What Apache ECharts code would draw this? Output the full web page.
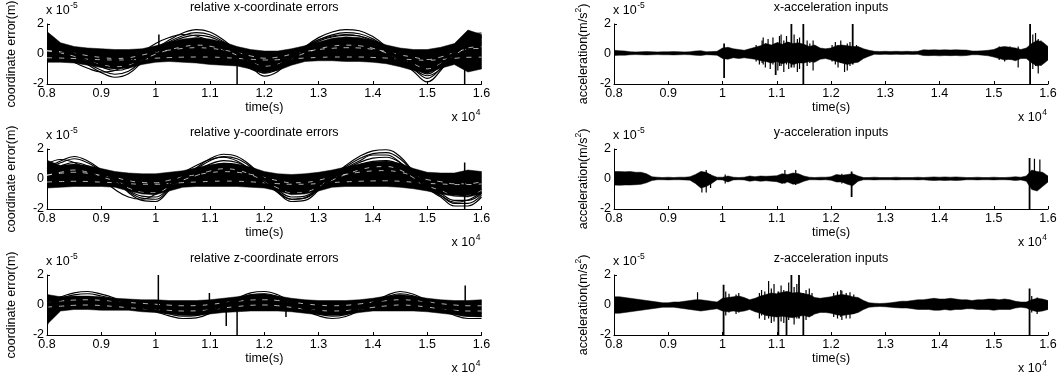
<!DOCTYPE html>
<html><head><meta charset="utf-8">
<script src="https://cdn.jsdelivr.net/npm/echarts@6/dist/echarts.min.js"></script>
<style>html,body{margin:0;padding:0;background:#fff}#c{width:1062px;height:383px}</style>
</head><body><div id="c"></div>
<script>
// ---------------- DATA ----------------
const X_TICK_LABELS = ['0.8','0.9','1','1.1','1.2','1.3','1.4','1.5','1.6'];
const Y_TICKS = [-2, 0, 2];
const TITLES = ['relative x-coordinate errors','x-acceleration inputs','relative y-coordinate errors','y-acceleration inputs','relative z-coordinate errors','z-acceleration inputs'];

const TIME33 = [8000,8250,8500,8750,9000,9250,9500,9750,10000,10250,10500,10750,11000,11250,11500,11750,12000,12250,12500,12750,13000,13250,13500,13750,14000,14250,14500,14750,15000,15250,15500,15750,16000];
const TIME81 = [8000,8100,8200,8300,8400,8500,8600,8700,8800,8900,9000,9100,9200,9300,9400,9500,9600,9700,9800,9900,10000,10100,10200,10300,10400,10500,10600,10700,10800,10900,11000,11100,11200,11300,11400,11500,11600,11700,11800,11900,12000,12100,12200,12300,12400,12500,12600,12700,12800,12900,13000,13100,13200,13300,13400,13500,13600,13700,13800,13900,14000,14100,14200,14300,14400,14500,14600,14700,14800,14900,15000,15100,15200,15300,15400,15500,15600,15700,15800,15900,16000];

// relative x-coordinate errors (x 1e-5 m)
const XE_CORE_HI = [1.5,0.75,0.5,0.4,0.35,0.3,0.3,0.35,0.55,0.8,1.0,1.1,1.0,0.8,0.5,0.3,0.2,0.2,0.35,0.55,0.8,1.05,1.15,1.1,0.9,0.6,0.4,0.3,0.3,0.45,0.7,1.6,1.3];
const XE_CORE_LO = [-0.55,-0.55,-0.6,-0.75,-0.9,-1.0,-0.95,-0.7,-0.55,-0.5,-0.55,-0.6,-0.7,-0.75,-0.8,-1.0,-1.25,-1.1,-0.75,-0.5,-0.45,-0.45,-0.5,-0.5,-0.55,-0.65,-0.85,-1.1,-1.3,-0.95,-0.7,-1.2,-1.0];
const XE_S1 = [0.4,0.22,-0.05,-0.46,-0.77,-0.95,-0.82,-0.37,0.13,0.49,0.76,0.9,0.81,0.49,0.04,-0.5,-0.91,-0.73,-0.23,0.22,0.58,0.81,0.9,0.85,0.63,0.22,-0.32,-0.73,-1.13,-0.68,0.04,0.67,0.76];
const XE_S2 = [0.63,0.4,0.05,-0.47,-0.87,-1.1,-0.93,-0.35,0.28,0.74,1.09,1.26,1.14,0.74,0.17,-0.53,-1.04,-0.81,-0.18,0.4,0.86,1.14,1.26,1.2,0.91,0.4,-0.3,-0.81,-1.33,-0.76,0.17,0.97,1.09];
const XE_S3 = [0.68,0.41,0,-0.61,-1.08,-1.35,-1.15,-0.47,0.27,0.81,1.22,1.42,1.28,0.81,0.14,-0.68,-1.28,-1.01,-0.27,0.41,0.95,1.28,1.42,1.35,1.01,0.41,-0.41,-1.01,-1.62,-0.95,0.14,1.08,1.22];
const XE_S4 = [0.78,0.47,0,-0.7,-1.24,-1.55,-1.32,-0.54,0.31,0.93,1.4,1.63,1.47,0.93,0.16,-0.78,-1.47,-1.16,-0.31,0.47,1.09,1.47,1.63,1.55,1.16,0.47,-0.47,-1.16,-1.86,-1.09,0.16,1.24,1.4];
const XE_S5 = [0.45,0.0,-0.55,-0.95,-1.2,-1.1,-0.6,0.1,0.7,1.1,1.3,1.2,0.85,0.3,-0.4,-1.0,-1.25,-0.8,-0.1,0.5,0.95,1.2,1.3,1.2,0.8,0.2,-0.5,-1.0,-1.45,-1.0,-0.1,0.8,1.1];
const XE_W1 = [0.23,0.16,0.05,-0.11,-0.23,-0.3,-0.25,-0.07,0.12,0.26,0.37,0.42,0.38,0.26,0.09,-0.13,-0.28,-0.21,-0.02,0.16,0.3,0.38,0.42,0.4,0.31,0.16,-0.06,-0.21,-0.37,-0.2,0.09,0.33,0.37];
const XE_W2 = [0.2,0.06,-0.15,-0.47,-0.71,-0.85,-0.75,-0.4,-0.01,0.27,0.48,0.59,0.52,0.27,-0.08,-0.5,-0.82,-0.68,-0.29,0.06,0.34,0.52,0.59,0.55,0.38,0.06,-0.36,-0.68,-0.99,-0.64,-0.08,0.41,0.48];
const XE_W3 = [-0.25,-0.27,-0.3,-0.35,-0.38,-0.4,-0.39,-0.34,-0.28,-0.24,-0.21,-0.2,-0.2,-0.24,-0.29,-0.35,-0.4,-0.38,-0.32,-0.27,-0.23,-0.2,-0.2,-0.2,-0.23,-0.27,-0.33,-0.38,-0.42,-0.37,-0.29,-0.22,-0.21];
const XE_SPIKES = [[10060,0.3,1.3],[11500,-2.1,0],[15690,-2.1,1.2]];

// relative y-coordinate errors
const YE_CORE_HI = [1.25,0.9,1.0,0.9,0.7,0.5,0.4,0.35,0.35,0.45,0.55,0.75,0.95,1.05,1.0,0.8,0.5,0.35,0.3,0.35,0.45,0.6,0.8,1.0,1.15,1.2,1.05,0.7,0.45,0.4,0.4,0.6,0.5];
const YE_CORE_LO = [-0.6,-0.55,-0.5,-0.5,-0.5,-0.55,-0.8,-1.0,-1.05,-0.8,-0.55,-0.5,-0.5,-0.5,-0.5,-0.55,-0.6,-0.8,-1.05,-1.0,-0.8,-0.55,-0.5,-0.5,-0.5,-0.5,-0.55,-0.65,-0.8,-1.0,-1.15,-1.2,-1.0];
const YE_S1 = [0.5,0.77,0.95,0.77,0.41,0.05,-0.49,-0.81,-0.85,-0.4,0.14,0.5,0.86,1.04,0.95,0.59,0.05,-0.49,-0.85,-0.81,-0.4,0.14,0.59,0.95,1.18,1.22,0.95,0.32,-0.31,-0.67,-1.03,-1.03,-0.67];
const YE_S2 = [0.53,0.87,1.1,0.87,0.41,-0.05,-0.74,-1.14,-1.2,-0.63,0.07,0.53,0.99,1.22,1.1,0.64,-0.05,-0.74,-1.2,-1.14,-0.63,0.07,0.64,1.1,1.39,1.45,1.1,0.3,-0.51,-0.97,-1.43,-1.43,-0.97];
const YE_S3 = [0.68,1.08,1.35,1.08,0.54,0,-0.81,-1.28,-1.35,-0.68,0.14,0.68,1.22,1.49,1.35,0.81,0,-0.81,-1.35,-1.28,-0.68,0.14,0.81,1.35,1.69,1.76,1.35,0.41,-0.54,-1.08,-1.62,-1.62,-1.08];
const YE_S4 = [0.75,1.2,1.5,1.2,0.6,0,-0.9,-1.43,-1.5,-0.75,0.15,0.75,1.35,1.65,1.5,0.9,0,-0.9,-1.5,-1.43,-0.75,0.15,0.9,1.5,1.88,1.95,1.5,0.45,-0.6,-1.2,-1.8,-1.8,-1.2];
const YE_S5 = [1.0,1.3,1.1,0.6,0.0,-0.7,-1.2,-1.35,-1.0,-0.3,0.4,0.9,1.3,1.45,1.2,0.6,-0.2,-0.9,-1.35,-1.25,-0.7,0.0,0.7,1.2,1.6,1.6,1.1,0.2,-0.6,-1.1,-1.55,-1.4,-0.9];
const YE_W1 = [0.28,0.38,0.45,0.38,0.24,0.1,-0.11,-0.23,-0.25,-0.08,0.14,0.28,0.42,0.49,0.45,0.31,0.1,-0.11,-0.25,-0.23,-0.08,0.14,0.31,0.45,0.54,0.56,0.45,0.21,-0.04,-0.18,-0.32,-0.32,-0.18];
const YE_W2 = [0.23,0.45,0.6,0.45,0.15,-0.15,-0.6,-0.86,-0.9,-0.53,-0.08,0.23,0.53,0.68,0.6,0.3,-0.15,-0.6,-0.9,-0.86,-0.53,-0.08,0.3,0.6,0.79,0.83,0.6,0.08,-0.45,-0.75,-1.05,-1.05,-0.75];
const YE_W3 = [-0.2,-0.17,-0.15,-0.17,-0.21,-0.25,-0.31,-0.35,-0.35,-0.3,-0.24,-0.2,-0.16,-0.14,-0.15,-0.19,-0.25,-0.31,-0.35,-0.35,-0.3,-0.24,-0.19,-0.15,-0.13,-0.12,-0.15,-0.22,-0.29,-0.33,-0.37,-0.37,-0.33];
const YE_SPIKES = [[15690,-2.1,1.1]];

// relative z-coordinate errors
const ZE_CORE_HI = [0.7,0.55,0.6,0.6,0.55,0.45,0.4,0.35,0.35,0.3,0.3,0.3,0.35,0.45,0.55,0.7,0.75,0.6,0.45,0.35,0.3,0.3,0.3,0.35,0.45,0.6,0.7,0.6,0.45,0.35,0.3,0.3,0.35];
const ZE_CORE_LO = [-1.3,-0.4,-0.3,-0.3,-0.35,-0.35,-0.35,-0.45,-0.5,-0.6,-0.7,-0.7,-0.6,-0.5,-0.45,-0.4,-0.4,-0.4,-0.45,-0.55,-0.65,-0.7,-0.65,-0.5,-0.4,-0.4,-0.4,-0.4,-0.45,-0.55,-0.65,-0.75,-0.8];
const ZE_S1 = [0.17,0.33,0.5,0.55,0.44,0.28,0.06,-0.11,-0.28,-0.44,-0.55,-0.52,-0.33,0,0.28,0.5,0.55,0.41,0.11,-0.19,-0.44,-0.55,-0.47,-0.22,0.11,0.39,0.55,0.44,0.17,-0.17,-0.41,-0.55,-0.55];
const ZE_S2 = [0.23,0.45,0.68,0.75,0.6,0.38,0.08,-0.15,-0.38,-0.6,-0.75,-0.71,-0.45,0,0.38,0.68,0.75,0.56,0.15,-0.26,-0.6,-0.75,-0.64,-0.3,0.15,0.53,0.75,0.6,0.23,-0.23,-0.56,-0.75,-0.75];
const ZE_S3 = [0.27,0.54,0.81,0.9,0.72,0.45,0.09,-0.18,-0.45,-0.72,-0.9,-0.86,-0.54,0,0.45,0.81,0.9,0.68,0.18,-0.32,-0.72,-0.9,-0.77,-0.36,0.18,0.63,0.9,0.72,0.27,-0.27,-0.68,-0.9,-0.9];
const ZE_W1 = [0.21,0.27,0.33,0.35,0.31,0.25,0.17,0.11,0.05,-0.01,-0.05,-0.04,0.03,0.15,0.25,0.33,0.35,0.3,0.19,0.08,-0.01,-0.05,-0.02,0.07,0.19,0.29,0.35,0.31,0.21,0.09,0,-0.05,-0.05];
const ZE_W2 = [-0.14,-0.08,-0.02,0,-0.04,-0.1,-0.18,-0.24,-0.3,-0.36,-0.4,-0.39,-0.32,-0.2,-0.1,-0.02,0,-0.05,-0.16,-0.27,-0.36,-0.4,-0.37,-0.28,-0.16,-0.06,0,-0.04,-0.14,-0.26,-0.35,-0.4,-0.4];
const ZE_SPIKES = [[8010,-1.3,0.7],[10050,0,2.05],[10990,0,0.8],[11300,-1.4,0],[11500,-2.1,0],[12400,-0.8,0],[15700,0,1.3]];

// x-acceleration inputs (x 1e-5 m/s^2)
const XA_HI = [0.25,0.22,0.2,0.15,0.14,0.15,0.16,0.15,0.14,0.15,0.15,0.16,0.15,0.14,0.15,0.2,0.22,0.15,0.16,0.18,0.4,0.45,0.35,0.3,0.25,0.35,0.45,0.55,0.7,0.6,0.75,0.65,0.8,0.7,0.75,0.65,0.5,0.6,0.4,0.35,0.4,0.55,0.6,0.55,0.5,0.5,0.35,0.25,0.18,0.17,0.18,0.17,0.18,0.17,0.18,0.17,0.18,0.28,0.27,0.28,0.27,0.28,0.27,0.28,0.27,0.26,0.2,0.2,0.22,0.25,0.3,0.45,0.5,0.45,0.4,0.3,0.4,0.7,0.9,0.8,0.5];
const XA_LO = [-0.1,-0.08,-0.08,-0.05,-0.04,-0.05,-0.06,-0.05,-0.04,-0.05,-0.05,-0.06,-0.05,-0.04,-0.05,-0.08,-0.1,-0.05,-0.06,-0.08,-0.3,-0.35,-0.25,-0.3,-0.25,-0.3,-0.35,-0.45,-0.5,-0.6,-0.5,-0.65,-0.55,-0.7,-0.6,-0.6,-0.5,-0.55,-0.35,-0.3,-0.4,-0.5,-0.6,-0.7,-0.6,-0.55,-0.3,-0.15,-0.02,-0.03,-0.02,-0.03,-0.02,-0.03,-0.02,-0.03,-0.02,-0.1,-0.11,-0.1,-0.12,-0.1,-0.11,-0.1,-0.12,-0.1,-0.05,-0.05,-0.08,-0.12,-0.2,-0.3,-0.4,-0.35,-0.45,-0.3,-0.3,-0.6,-0.8,-0.7,-0.4];
const XA_SPIKES = [[10030,-1.6,0.7],[10980,-1.4,0.7],[11270,-0.9,2.0],[11490,-2.1,2.1],[12400,-0.7,2.0],[15670,-2.1,2.1]];
const XA_NOISE = [[10620,-0.5,0.6],[10680,-0.7,0.5],[10730,-0.6,0.9],[10750,-0.7,1.1],[10790,-0.9,0.7],[10840,-0.5,1.0],[10880,-1.0,0.6],[10930,-0.7,1.1],[11020,-1.1,0.8],[11050,-0.8,1.2],[11080,-0.8,1.3],[11130,-1.2,0.9],[11180,-0.7,1.2],[11220,-1.0,0.8],[11320,-0.9,1.3],[11380,-1.2,1.0],[11420,-1.0,1.1],[11560,-0.8,0.9],[11610,-0.6,0.7],[11670,-1.1,0.9],[12020,-0.5,0.6],[12080,-0.7,0.8],[12130,-0.9,0.6],[12180,-0.6,0.9],[12250,-1.2,0.5],[12300,-1.1,0.7],[12350,-0.8,0.8],[12470,-0.4,0.6],[15100,-0.4,0.5],[15200,-0.5,0.45],[15300,-0.4,0.5],[15450,-0.9,0.5],[15720,-1.0,1.3],[15770,-0.8,1.4],[15820,-1.3,1.0],[15870,-0.8,0.9],[15920,-0.6,0.7]];

// y-acceleration inputs
const YA_HI = [0.5,0.5,0.48,0.5,0.45,0.45,0.35,0.15,0.12,0.1,0.12,0.1,0.12,0.12,0.15,0.3,0.5,0.45,0.25,0.12,0.12,0.2,0.12,0.1,0.12,0.2,0.15,0.2,0.18,0.2,0.22,0.35,0.3,0.4,0.35,0.2,0.12,0.1,0.12,0.12,0.15,0.3,0.25,0.3,0.35,0.2,0.1,0.1,0.12,0.1,0.1,0.1,0.12,0.1,0.1,0.1,0.12,0.1,0.12,0.14,0.12,0.14,0.12,0.14,0.12,0.1,0.1,0.12,0.1,0.1,0.12,0.1,0.1,0.12,0.15,0.12,0.2,0.6,0.5,0.45,0.2];
const YA_LO = [-0.4,-0.42,-0.4,-0.4,-0.38,-0.35,-0.25,-0.1,-0.05,-0.05,-0.06,-0.05,-0.05,-0.06,-0.08,-0.3,-0.6,-0.5,-0.3,-0.05,-0.06,-0.2,-0.06,-0.05,-0.06,-0.15,-0.1,-0.15,-0.12,-0.15,-0.18,-0.3,-0.2,-0.35,-0.3,-0.15,-0.05,-0.05,-0.06,-0.05,-0.08,-0.2,-0.2,-0.35,-0.45,-0.15,-0.05,-0.05,-0.06,-0.05,-0.05,-0.05,-0.06,-0.05,-0.05,-0.05,-0.06,-0.05,-0.08,-0.1,-0.08,-0.1,-0.08,-0.1,-0.08,-0.05,-0.05,-0.06,-0.05,-0.05,-0.06,-0.05,-0.05,-0.06,-0.1,-0.06,-0.15,-0.7,-0.8,-0.5,-0.2];
const YA_SPIKES = [[12380,-1.2,0.5],[15660,-2.1,1.4]];
const YA_NOISE = [[9620,-0.9,0.5],[9700,-0.9,0.6],[9780,-0.6,0.3],[10050,-0.3,0.3],[11150,-0.3,0.6],[11350,-0.4,0.6],[12200,-0.3,0.35],[15750,-0.6,1.35],[15850,-0.5,1.3]];

// z-acceleration inputs
const ZA_HI = [0.55,0.55,0.5,0.45,0.4,0.35,0.3,0.25,0.2,0.15,0.15,0.2,0.2,0.25,0.3,0.35,0.35,0.3,0.25,0.2,0.45,0.5,0.55,0.6,0.5,0.35,0.45,0.6,0.7,0.8,0.75,0.85,0.9,0.8,0.85,0.75,0.7,0.5,0.45,0.5,0.55,0.65,0.7,0.65,0.55,0.5,0.3,0.15,0.12,0.1,0.12,0.15,0.2,0.25,0.25,0.3,0.35,0.35,0.4,0.45,0.4,0.4,0.45,0.4,0.35,0.35,0.3,0.35,0.35,0.4,0.4,0.35,0.4,0.35,0.25,0.2,0.2,0.35,0.45,0.4,0.3];
const ZA_LO = [-0.55,-0.55,-0.5,-0.45,-0.4,-0.35,-0.3,-0.25,-0.2,-0.15,-0.15,-0.15,-0.2,-0.25,-0.3,-0.35,-0.4,-0.35,-0.3,-0.25,-0.4,-0.45,-0.4,-0.45,-0.4,-0.3,-0.45,-0.55,-0.7,-0.75,-0.8,-0.75,-0.8,-0.85,-0.75,-0.7,-0.8,-0.6,-0.5,-0.5,-0.55,-0.65,-0.7,-0.65,-0.6,-0.5,-0.3,-0.15,-0.12,-0.1,-0.12,-0.15,-0.18,-0.2,-0.2,-0.25,-0.3,-0.3,-0.3,-0.35,-0.35,-0.3,-0.35,-0.3,-0.3,-0.25,-0.25,-0.3,-0.3,-0.3,-0.35,-0.3,-0.3,-0.3,-0.2,-0.15,-0.2,-0.35,-0.45,-0.4,-0.3];
const ZA_SPIKES = [[10020,-2.1,1.35],[11030,-2.1,0.9],[11180,-2.1,0.9],[11270,-0.8,2.05],[11410,-0.9,2.05],[11490,-2.1,0.8],[15660,-2.1,1.1]];
const ZA_NOISE = [[9540,-0.3,0.85],[10060,-0.7,0.9],[10120,-0.5,0.75],[10250,-0.6,0.7],[10300,-0.5,0.8],[10680,-0.9,0.8],[10720,-0.7,1.0],[10780,-1.0,0.9],[10850,-0.9,1.6],[10900,-1.2,1.1],[10950,-1.1,1.4],[11080,-1.1,1.3],[11130,-1.2,1.0],[11220,-1.0,1.5],[11320,-1.3,1.2],[11370,-0.9,1.4],[11540,-1.0,1.0],[11600,-0.8,1.1],[11650,-0.7,0.8],[12050,-0.8,0.8],[12120,-0.9,0.9],[12180,-0.8,1.0],[12200,-1.0,0.95],[12280,-0.9,0.8],[12350,-0.9,0.85],[12420,-0.6,0.7],[15700,-0.5,0.6],[15800,-0.6,0.5]];

// ---------------- LAYOUT ----------------
const FONT = 'Liberation Sans, Arial, Helvetica, sans-serif';
const COLS = [{left: 47, width: 434.5}, {left: 614, width: 434}];
const ROWS = [24, 149, 275];
const PH = 60;

const chart = echarts.init(document.getElementById('c'), null, {renderer: 'canvas'});
const cv = document.createElement('canvas').getContext('2d');
function tw(t, fs) { cv.font = fs + 'px ' + FONT; return cv.measureText(t).width; }

const grids = [], xAxes = [], yAxes = [], series = [], graphics = [];
const panels = [];
for (let r = 0; r < 3; r++) for (let c = 0; c < 2; c++) panels.push({r, c});

panels.forEach((p, gi) => {
  const col = COLS[p.c], top = ROWS[p.r];
  grids.push({left: col.left, top: top, width: col.width, height: PH});
  xAxes.push({
    gridIndex: gi, type: 'value', min: 8000, max: 16000, interval: 1000,
    axisLine: {onZero: false, lineStyle: {color: '#000', width: 1}},
    axisTick: {inside: true, length: 3, lineStyle: {color: '#000', width: 1}},
    axisLabel: {color: '#000', fontSize: 12.5, fontFamily: FONT, margin: 3,
      formatter: v => X_TICK_LABELS[Math.round((v - 8000) / 1000)]},
    splitLine: {show: false}
  });
  yAxes.push({
    gridIndex: gi, type: 'value', min: Y_TICKS[0], max: Y_TICKS[2], interval: 2,
    axisLine: {show: true, onZero: false, lineStyle: {color: '#000', width: 1}},
    axisTick: {show: true, inside: true, length: 3, lineStyle: {color: '#000', width: 1}},
    axisLabel: {color: '#000', fontSize: 12.5, fontFamily: FONT, margin: 3, formatter: v => String(v)},
    splitLine: {show: false}
  });
  const cx = col.left + col.width / 2, right = col.left + col.width, bottom = top + PH;
  const txt = (x, y, t, fs, align, valign) => ({type: 'text', x, y, silent: true,
    style: {text: t, fontSize: fs, fontFamily: FONT, fill: '#000', align: align || 'center', verticalAlign: valign || 'middle'}});
  graphics.push(txt(cx, top - 16, TITLES[gi], 12.5));
  graphics.push(txt(cx, bottom + 24, 'time(s)', 12.5));
  const m1 = 'x 10';
  const w4 = tw(m1, 12.5);
  graphics.push(txt(col.left - 1, top - 13, m1, 12.5, 'left'));
  graphics.push(txt(col.left - 1 + w4 + 0.5, top - 18, '-5', 8.5, 'left'));
  graphics.push(txt(right - 30, bottom + 34, m1, 12.5, 'left'));
  graphics.push(txt(right - 30 + w4 + 0.5, bottom + 29, '4', 8.5, 'left'));
  const ymid = top + PH / 2;
  if (p.c === 0) {
    graphics.push({type: 'text', x: 12, y: ymid, rotation: Math.PI / 2, silent: true,
      style: {text: 'coordinate error(m)', fontSize: 12.5, fontFamily: FONT, fill: '#000', align: 'center', verticalAlign: 'middle'}});
  } else {
    const a = 'acceleration(m/s', b = '2', d = ')';
    const wa = tw(a, 12.5), wb = tw(b, 8.5), wd = tw(d, 12.5);
    const tot = wa + wb + wd, x0 = -tot / 2;
    graphics.push({type: 'group', x: 584, y: ymid, rotation: Math.PI / 2, silent: true, children: [
      {type: 'text', x: x0, y: 0, style: {text: a, fontSize: 12.5, fontFamily: FONT, fill: '#000', align: 'left', verticalAlign: 'middle'}},
      {type: 'text', x: x0 + wa, y: -5, style: {text: b, fontSize: 8.5, fontFamily: FONT, fill: '#000', align: 'left', verticalAlign: 'middle'}},
      {type: 'text', x: x0 + wa + wb, y: 0, style: {text: d, fontSize: 12.5, fontFamily: FONT, fill: '#000', align: 'left', verticalAlign: 'middle'}}
    ]});
  }
});

function bandSeries(gi, times, lo, hi) {
  return {type: 'custom', xAxisIndex: gi, yAxisIndex: gi, clip: true, silent: true, z: 2,
    data: times.map((t, i) => [t, lo[i], hi[i]]), encode: {x: 0, y: [1, 2]},
    renderItem: function (params, api) {
      if (params.dataIndex !== 0) return null;
      const pts = [];
      for (let i = 0; i < times.length; i++) pts.push(api.coord([times[i], hi[i]]));
      for (let i = times.length - 1; i >= 0; i--) pts.push(api.coord([times[i], lo[i]]));
      return {type: 'polygon', shape: {points: pts}, style: {fill: '#000', stroke: '#000', lineWidth: 0.5}};
    }};
}
function spikeSeries(gi, spikes, w) {
  return {type: 'custom', xAxisIndex: gi, yAxisIndex: gi, clip: true, silent: true, z: 4,
    data: spikes, encode: {x: 0, y: [1, 2]},
    renderItem: function (params, api) {
      const p1 = api.coord([api.value(0), api.value(1)]);
      const p2 = api.coord([api.value(0), api.value(2)]);
      return {type: 'line', shape: {x1: p1[0], y1: p1[1], x2: p2[0], y2: p2[1]}, style: {stroke: '#000', lineWidth: w}};
    }};
}
function strand(gi, vals, color, width, dash, z) {
  return {type: 'line', xAxisIndex: gi, yAxisIndex: gi, data: TIME33.map((t, i) => [t, vals[i]]),
    showSymbol: false, smooth: 0.4, silent: true, clip: true, z: z,
    lineStyle: {color: color, width: width, type: dash || 'solid'}};
}
const BLACK = (gi, s) => strand(gi, s, '#000', 1.2, null, 3);
const WHITE = (gi, s) => strand(gi, s, '#fff', 0.7, [5, 7], 2.5);

series.push(bandSeries(0, TIME33, XE_CORE_LO, XE_CORE_HI));
[XE_W1, XE_W2, XE_W3].forEach(s => series.push(WHITE(0, s)));
[XE_S1, XE_S2, XE_S3, XE_S4, XE_S5].forEach(s => series.push(BLACK(0, s)));
series.push(spikeSeries(0, XE_SPIKES, 1.5));

series.push(bandSeries(2, TIME33, YE_CORE_LO, YE_CORE_HI));
[YE_W1, YE_W2, YE_W3].forEach(s => series.push(WHITE(2, s)));
[YE_S1, YE_S2, YE_S3, YE_S4, YE_S5].forEach(s => series.push(BLACK(2, s)));
series.push(spikeSeries(2, YE_SPIKES, 1.5));

series.push(bandSeries(4, TIME33, ZE_CORE_LO, ZE_CORE_HI));
[ZE_W1, ZE_W2].forEach(s => series.push(WHITE(4, s)));
[ZE_S1, ZE_S2, ZE_S3].forEach(s => series.push(BLACK(4, s)));
series.push(spikeSeries(4, ZE_SPIKES, 1.5));

series.push(bandSeries(1, TIME81, XA_LO, XA_HI));
series.push(spikeSeries(1, XA_NOISE, 1.2));
series.push(spikeSeries(1, XA_SPIKES, 1.8));
series.push(bandSeries(3, TIME81, YA_LO, YA_HI));
series.push(spikeSeries(3, YA_NOISE, 1.2));
series.push(spikeSeries(3, YA_SPIKES, 1.8));
series.push(bandSeries(5, TIME81, ZA_LO, ZA_HI));
series.push(spikeSeries(5, ZA_NOISE, 1.2));
series.push(spikeSeries(5, ZA_SPIKES, 1.8));

chart.setOption({
  animation: false,
  backgroundColor: '#fff',
  grid: grids, xAxis: xAxes, yAxis: yAxes, series: series,
  graphic: {elements: graphics}
});
</script></body></html>
